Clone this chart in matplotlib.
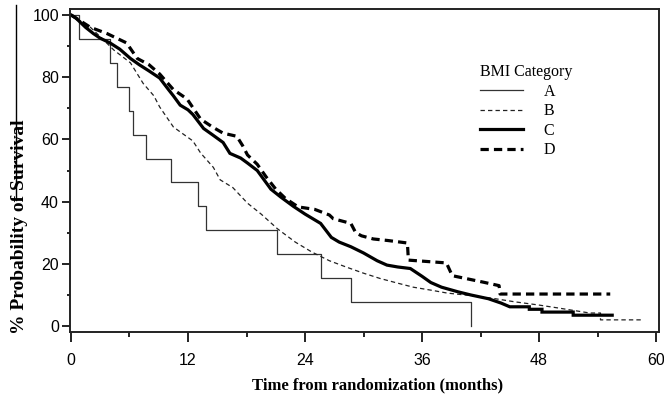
import matplotlib
matplotlib.use("Agg")
import matplotlib.pyplot as plt
from matplotlib.lines import Line2D
from matplotlib.ticker import MultipleLocator

# Survival curves (months, % survival).
# A is a plain step curve; B, C, D are traced as polylines, with the
# visible vertical drops given as repeated times.
a_t = [0, 0.8, 4.0, 4.7, 5.9, 6.4, 7.7, 10.3, 13.0, 13.8, 21.1, 25.6, 28.7, 41.0]
a_s = [100, 92.3, 84.6, 76.9, 69.2, 61.5, 53.8, 46.2, 38.5, 30.8, 23.1, 15.4, 7.7, 0]

b_t = [0, 1, 2, 3, 4.4, 6.1, 7.4, 8.5, 9.1, 10.5, 11.2, 12.5, 13.3, 14.6, 15.3,
       16.6, 18.1, 19.5, 21.2, 23, 24.7, 26.5, 28.2, 30, 31.7, 33.5, 35.1, 37,
       38.6, 41, 43.1, 45.5, 47.9, 50, 53.2, 54.3, 54.3, 58.5]
b_s = [100, 98, 96, 93, 88.7, 84.6, 78, 74, 70.4, 64, 62.4, 59.5, 55.6, 51, 47,
       44.5, 39.5, 36, 31.2, 27, 23.8, 21, 19, 17, 15.3, 13.8, 12.5, 11.5,
       10.6, 9.8, 9.0, 7.8, 6.8, 5.8, 4.2, 4.2, 2.0, 2.0]

c_t = [0, 0.5, 1.0, 1.5, 2.3, 3.0, 4.0, 5.0, 6.1, 7.0, 8.0, 9.1, 10.0, 10.5,
       11.2, 12.0, 12.5, 13.6, 14.5, 15.6, 16.3, 17.4, 18.1, 19.1, 19.8, 20.5,
       21.5, 22.8, 24.0, 25.6, 26.7, 27.5, 28.7, 30.0, 31.4, 32.4, 33.5, 34.8,
       36.0, 36.9, 38.0, 39.7, 41.0, 42.8, 44.1, 45.0, 47.0, 47.0, 48.3, 48.3,
       51.5, 51.5, 55.5]
c_s = [100, 99, 97.5, 96, 94, 92.5, 91, 89, 86, 84, 82, 79.7, 76, 74, 71, 69.5,
       68, 63.5, 61.5, 59, 55.5, 54, 52.4, 50, 47, 44, 41.5, 38.5, 36, 33, 28.5,
       27, 25.5, 23.5, 21, 19.6, 19, 18.5, 16, 14, 12.5, 11, 10, 8.8, 7.4, 6.2,
       6.2, 5.4, 5.4, 4.5, 4.5, 3.5, 3.5]

d_t = [0, 1, 2, 3.7, 5.7, 6.8, 8, 9.1, 10.5, 11.9, 13.3, 14.5, 15.6, 17, 17.6,
       18.1, 19.1, 20, 21, 22, 23.3, 25, 26.5, 26.9, 28.7, 29.2, 29.8, 31, 32.5,
       34.5, 34.6, 38.5, 39.1, 42.3, 43.9, 44.0, 55.3]
d_s = [100, 98, 96, 94, 91, 86, 84, 81, 76, 73, 66.5, 64, 62, 61, 58, 55, 52,
       48, 44, 41, 38.3, 37.5, 35.7, 34.5, 33, 30, 29, 28, 27.5, 26.7, 21.2,
       20.3, 16.2, 14.1, 13, 10.3, 10.3]

x_ticks = [0, 12, 24, 36, 48, 60]
y_ticks = [0, 20, 40, 60, 80, 100]

SERIF = ["Liberation Serif", "DejaVu Serif"]
SANS = ["Liberation Sans", "DejaVu Sans"]

fig = plt.figure(figsize=(6.64, 3.97), dpi=100)
ax = fig.add_axes([70 / 664, 1 - 332 / 397, 589 / 664, 323 / 397])

ax.plot(a_t, a_s, drawstyle="steps-post", color="#333333", lw=0.9, label="A")
ax.plot(b_t, b_s, color="#222222", lw=0.9, dashes=(3.5, 2.5), label="B")
ax.plot(c_t, c_s, color="black", lw=2.3, solid_joinstyle="miter", label="C")
ax.plot(d_t, d_s, color="black", lw=2.3, dashes=(2.6, 1.6), label="D")

ax.set_xlim(-0.1, 60.3)
ax.set_ylim(-1.9, 101.9)
ax.set_xticks(x_ticks)
ax.set_yticks(y_ticks)
ax.xaxis.set_minor_locator(MultipleLocator(6))
ax.yaxis.set_minor_locator(MultipleLocator(10))
ax.tick_params(which="both", direction="out", width=1.4, color="#222222")
ax.tick_params(axis="x", which="major", length=7.5, pad=7.5)
ax.tick_params(axis="x", which="minor", length=3.5)
ax.tick_params(axis="y", which="major", length=5.5, pad=2.5)
ax.tick_params(axis="y", which="minor", length=2.5)
for lab in ax.get_xticklabels() + ax.get_yticklabels():
    lab.set_fontfamily(SANS)
    lab.set_fontsize(11.5)
for sp in ax.spines.values():
    sp.set_linewidth(1.4)
    sp.set_color("#222222")

fig.text(378 / 664, 1 - 385 / 397, "Time from randomization (months)",
         ha="center", va="center", fontsize=12, fontweight="bold", family=SERIF)
fig.text(20 / 664, 1 - 227 / 397, "% Probability of Survival", rotation=90,
         ha="center", va="center", fontsize=14, fontweight="bold", family=SERIF)

leg = ax.legend(title="BMI Category", loc="upper left",
                bbox_to_anchor=(0.671, 0.874), frameon=False,
                prop={"family": SERIF, "size": 11.5}, handlelength=2.7,
                handletextpad=1.3, labelspacing=0.22, alignment="left")
leg.get_title().set_fontfamily(SERIF)
leg.get_title().set_fontsize(11.5)

# thin vertical scan line at the far left of the reference
fig.add_artist(Line2D([16 / 664, 16 / 664], [1 - 5 / 397, 1 - 200 / 397],
                      transform=fig.transFigure, color="black", lw=1.0))

fig.savefig("out.png", dpi=100)
